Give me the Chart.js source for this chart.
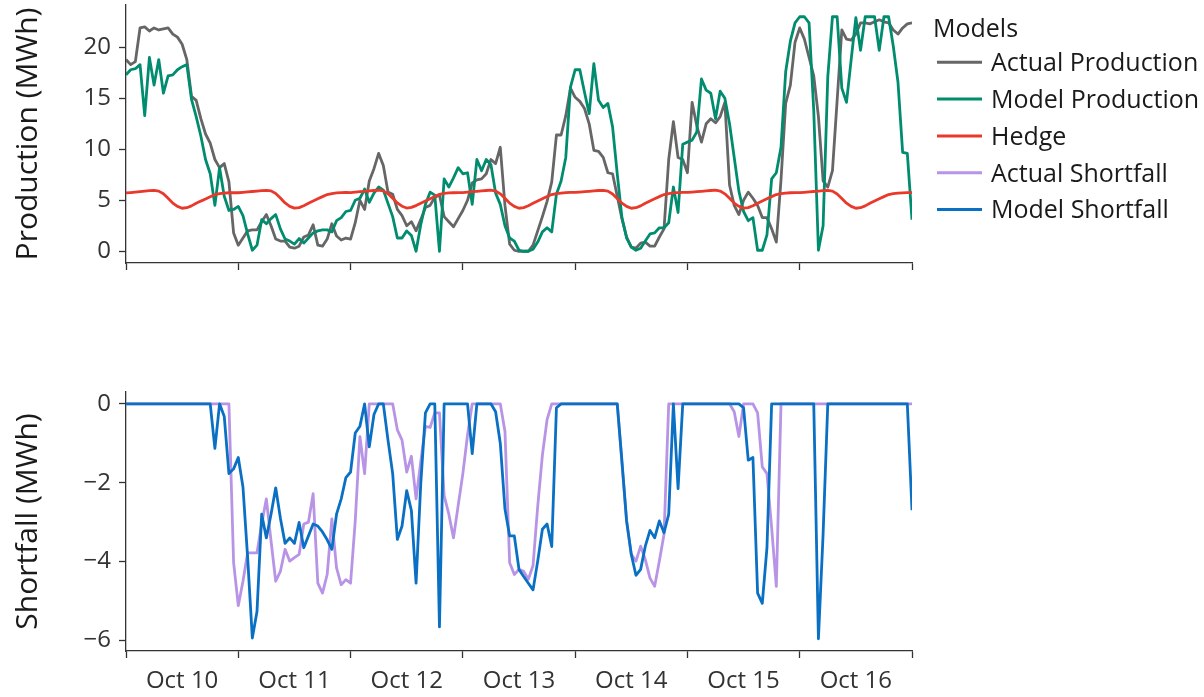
<!DOCTYPE html>
<html>
<head>
<meta charset="utf-8">
<script src="https://cdn.jsdelivr.net/npm/chart.js@4.4.1/dist/chart.umd.min.js"></script>
<style>
  html, body { margin: 0; padding: 0; background: #ffffff; }
  #wrap { position: relative; width: 1204px; height: 697px; overflow: hidden; }
  canvas { position: absolute; left: 0; }
  #prod { top: 0; }
  #short { top: 380px; }
</style>
</head>
<body>
<div id="wrap">
  <canvas id="prod" width="1204" height="300"></canvas>
  <canvas id="short" width="1204" height="317"></canvas>
</div>
<script>
// ---- data: hourly values, Oct 10 00:00 to Oct 17 00:00 ----
const dayLabels = ['Oct 10', 'Oct 11', 'Oct 12', 'Oct 13', 'Oct 14', 'Oct 15', 'Oct 16'];
const hours = Array.from({ length: 169 }, (_, i) => i); // hours since Oct 10 00:00
const productionTicks = [0, 5, 10, 15, 20];
const shortfallTicks = [-6, -4, -2, 0];

const actualProduction = [
  18.8, 18.3, 18.6, 21.9, 22.0, 21.6, 21.9, 21.7, 21.8, 21.9, 21.3, 21.0, 20.3, 18.8, 15.2, 14.8, 13.0, 11.5, 10.6, 9.0, 8.2, 8.6, 6.8, 1.8,
  0.6, 1.3, 2.0, 2.1, 2.1, 2.9, 3.6, 2.5, 1.2, 1.0, 1.0, 0.4, 0.3, 0.5, 1.4, 1.6, 2.6, 0.6, 0.5, 1.2, 2.7, 1.5, 1.1, 1.3,
  1.2, 2.8, 5.0, 4.1, 6.9, 8.1, 9.6, 8.4, 5.8, 5.6, 4.1, 3.5, 2.5, 2.9, 2.0, 3.1, 4.3, 4.5, 5.3, 5.5, 3.4, 2.9, 2.4, 3.2,
  4.0, 5.0, 6.7, 7.0, 7.1, 7.6, 9.0, 8.6, 10.2, 4.5, 0.7, 0.1, 0.0, 0.0, 0.0, 0.6, 2.0, 3.4, 4.9, 6.8, 11.4, 11.4, 13.3, 16.0,
  15.1, 14.7, 14.0, 12.5, 9.9, 9.8, 9.2, 7.7, 7.6, 5.4, 3.2, 1.4, 0.4, 0.3, 0.8, 0.9, 0.5, 0.5, 1.4, 2.2, 9.0, 12.7, 9.2, 9.0,
  7.7, 14.6, 12.3, 10.7, 12.5, 13.0, 12.6, 13.2, 14.6, 6.5, 4.5, 3.6, 5.0, 5.8, 5.2, 4.5, 3.3, 3.3, 2.2, 0.9, 7.0, 14.5, 16.3, 20.5,
  21.9, 20.8, 19.0, 17.2, 13.2, 6.9, 6.3, 7.9, 14.8, 21.7, 20.8, 20.7, 21.3, 22.4, 22.4, 22.3, 22.5, 22.7, 22.5, 22.4, 21.7, 21.3, 21.9, 22.3,
  22.4
];

const modelProduction = [
  17.3, 17.8, 17.9, 18.3, 13.3, 19.0, 16.3, 18.8, 15.5, 17.2, 17.3, 17.8, 18.1, 18.3, 14.9, 13.2, 11.3, 9.0, 7.6, 4.5, 8.2, 5.4, 4.0, 4.1,
  4.4, 3.5, 1.7, 0.1, 0.6, 3.1, 2.7, 3.2, 3.6, 2.2, 1.2, 1.0, 0.7, 1.25, 0.8, 1.3, 1.8, 2.0, 2.1, 2.1, 1.9, 3.0, 3.3, 3.9,
  4.0, 5.0, 5.2, 6.1, 4.8, 5.7, 6.3, 6.0, 4.7, 3.4, 1.3, 1.3, 2.0, 1.55, 0.0, 2.6, 4.6, 5.8, 5.5, 0.0, 7.1, 6.3, 7.2, 8.2,
  7.6, 7.7, 4.6, 9.0, 7.9, 9.0, 8.5, 5.7, 4.6, 2.5, 1.3, 1.0, 0.1, 0.0, 0.0, 0.2, 0.9, 1.9, 2.3, 1.9, 5.6, 6.9, 9.2, 16.1,
  17.8, 17.8, 15.6, 13.5, 18.4, 14.8, 14.1, 14.5, 12.2, 7.6, 3.3, 1.3, 0.4, 0.1, 0.3, 1.0, 1.7, 1.8, 2.3, 2.3, 2.8, 6.3, 3.8, 10.5,
  10.7, 10.9, 11.7, 16.9, 15.8, 15.5, 13.0, 15.7, 15.0, 12.5, 9.2, 5.9, 3.9, 3.0, 3.3, 0.1, 0.1, 1.6, 7.1, 7.7, 10.2, 17.6, 20.6, 22.4,
  23.0, 23.0, 22.4, 13.8, 0.1, 2.5, 17.1, 23.0, 23.0, 16.0, 14.6, 18.8, 22.9, 19.7, 23.0, 23.0, 23.0, 19.7, 23.0, 23.0, 20.1, 16.6, 9.7, 9.6,
  3.1
];

const hedge = [
  5.72, 5.76, 5.80, 5.85, 5.90, 5.95, 5.98, 5.90, 5.64, 5.20, 4.72, 4.40, 4.22, 4.27, 4.45, 4.70, 4.92, 5.12, 5.35, 5.55, 5.65, 5.70, 5.74, 5.76,
  5.74, 5.78, 5.82, 5.86, 5.90, 5.94, 5.98, 5.92, 5.66, 5.22, 4.74, 4.40, 4.23, 4.28, 4.46, 4.70, 4.92, 5.14, 5.36, 5.56, 5.66, 5.72, 5.76, 5.78,
  5.76, 5.80, 5.84, 5.88, 5.92, 5.96, 6.00, 5.92, 5.64, 5.20, 4.74, 4.42, 4.24, 4.30, 4.48, 4.72, 4.94, 5.16, 5.38, 5.58, 5.68, 5.72, 5.74, 5.76,
  5.76, 5.80, 5.84, 5.88, 5.92, 5.96, 5.99, 5.91, 5.63, 5.19, 4.72, 4.40, 4.22, 4.28, 4.46, 4.70, 4.93, 5.15, 5.37, 5.56, 5.66, 5.71, 5.75, 5.78,
  5.77, 5.80, 5.84, 5.88, 5.92, 5.96, 5.98, 5.90, 5.62, 5.18, 4.72, 4.40, 4.22, 4.27, 4.45, 4.70, 4.92, 5.14, 5.36, 5.56, 5.66, 5.72, 5.76, 5.78,
  5.77, 5.80, 5.84, 5.88, 5.92, 5.96, 5.99, 5.91, 5.63, 5.19, 4.72, 4.41, 4.23, 4.28, 4.46, 4.70, 4.92, 5.14, 5.36, 5.56, 5.66, 5.71, 5.74, 5.76,
  5.75, 5.78, 5.82, 5.86, 5.90, 5.95, 5.98, 5.90, 5.62, 5.18, 4.72, 4.40, 4.22, 4.27, 4.45, 4.70, 4.92, 5.14, 5.36, 5.56, 5.66, 5.70, 5.73, 5.75,
  5.76
];

const actualShortfall = [
  0, 0, 0, 0, 0, 0, 0, 0, 0, 0, 0, 0, 0, 0, 0, 0, 0, 0, 0, 0, 0, 0, 0, -4.03,
  -5.12, -4.5, -3.78, -3.78, -3.78, -3.05, -2.41, -3.48, -4.5, -4.25, -3.69, -3.99, -3.9, -3.82, -3.05, -3.0, -2.28, -4.55, -4.8, -4.33, -2.92, -4.16, -4.59, -4.46,
  -4.55, -2.97, -0.83, -1.77, 0, 0, 0, 0, 0, 0, -0.66, -0.92, -1.73, -1.33, -2.41, -1.47, -0.57, -0.6, -0.23, -0.23, -2.33, -2.8, -3.4, -2.58,
  -1.77, -0.79, 0, 0, 0, 0, 0, 0, 0, -0.7, -4.03, -4.33, -4.2, -4.25, -4.45, -4.1, -2.6, -1.3, -0.4, 0, 0, 0, 0, 0,
  0, 0, 0, 0, 0, 0, 0, 0, 0, 0, -1.5, -2.98, -3.82, -3.99, -3.61, -3.95, -4.42, -4.63, -3.99, -3.31, 0, 0, 0, 0,
  0, 0, 0, 0, 0, 0, 0, 0, 0, 0, -0.2, -0.83, 0, 0, 0, -0.23, -1.6, -1.77, -3.14, -4.63, 0, 0, 0, 0,
  0, 0, 0, 0, 0, 0, 0, 0, 0, 0, 0, 0, 0, 0, 0, 0, 0, 0, 0, 0, 0, 0, 0, 0,
  0
];

const modelShortfall = [
  0, 0, 0, 0, 0, 0, 0, 0, 0, 0, 0, 0, 0, 0, 0, 0, 0, 0, 0, -1.13, 0, -0.32, -1.77, -1.65,
  -1.36, -2.11, -3.9, -5.94, -5.27, -2.8, -3.4, -2.8, -2.13, -2.9, -3.54, -3.4, -3.54, -3.01, -3.65, -3.35, -3.05, -3.1, -3.25, -3.45, -3.69, -2.8, -2.41, -1.87,
  -1.73, -0.74, -0.57, 0, -1.09, -0.27, 0, 0, -0.92, -1.77, -3.44, -3.1, -2.2, -2.71, -4.55, -2.03, -0.23, 0, 0, -5.66, 0, 0, 0, 0,
  0, 0, -1.26, 0, 0, 0, 0, -0.2, -1.0, -2.67, -3.35, -3.35, -4.2, -4.38, -4.55, -4.72, -3.99, -3.18, -3.05, -3.62, -0.1, 0, 0, 0,
  0, 0, 0, 0, 0, 0, 0, 0, 0, 0, -1.45, -2.97, -3.82, -4.35, -4.2, -3.61, -3.21, -3.4, -2.97, -3.27, -2.8, 0, -2.15, 0,
  0, 0, 0, 0, 0, 0, 0, 0, 0, 0, 0, 0, -0.1, -1.43, -1.36, -4.8, -5.06, -3.65, 0, 0, 0, 0, 0, 0,
  0, 0, 0, 0, -5.96, -3.3, 0, 0, 0, 0, 0, 0, 0, 0, 0, 0, 0, 0, 0, 0, 0, 0, 0, 0,
  -2.7
];

// ---- styling ----
const FONT = '"Open Sans", "DejaVu Sans", sans-serif';
const TICK_INK = '#333333';
const TITLE_INK = '#1a1a1a';
const AXIS_INK = '#333333';
const colors = {
  'Actual Production': '#666666',
  'Model Production': '#008c6f',
  'Hedge': '#e8392b',
  'Actual Shortfall': '#b894e6',
  'Model Shortfall': '#0a70c4'
};

function line(label, data, order) {
  return {
    label, data, order,
    borderColor: colors[label],
    backgroundColor: colors[label],
    borderWidth: 2.8,
    borderJoinStyle: 'round',
    borderCapStyle: 'butt',
    pointRadius: 0,
    pointHoverRadius: 0,
    tension: 0,
    fill: false
  };
}

function timeAxis(showLabels, height) {
  return {
    type: 'linear',
    min: 0,
    max: 168,
    afterBuildTicks(scale) {
      const t = [];
      for (let v = 0; v <= 168; v += 12) t.push({ value: v });
      scale.ticks = t;
    },
    afterFit(scale) {
      scale.height = height;
      scale.paddingLeft = 0;
      scale.paddingRight = 0;
    },
    border: { display: true, color: AXIS_INK, width: 1.3 },
    grid: {
      display: true,
      drawOnChartArea: false,
      drawTicks: true,
      tickLength: 7,
      tickWidth: 1.3,
      tickColor: (ctx) => (ctx.tick && ctx.tick.value % 24 === 0) ? AXIS_INK : 'rgba(0,0,0,0)'
    },
    ticks: {
      autoSkip: false,
      maxRotation: 0,
      minRotation: 0,
      padding: 9,
      color: TICK_INK,
      font: { family: FONT, size: 24 },
      callback: (v) => (showLabels && v % 24 === 12) ? dayLabels[(v - 12) / 24] : ''
    }
  };
}

function valueAxis(title, tickValues, min, max) {
  return {
    type: 'linear',
    min, max,
    afterBuildTicks(scale) { scale.ticks = tickValues.map((v) => ({ value: v })); },
    afterFit(scale) {
      scale.width = 126;
      scale.paddingTop = 0;
      scale.paddingBottom = 0;
    },
    border: { display: true, color: AXIS_INK, width: 1.3 },
    grid: { display: true, drawOnChartArea: false, drawTicks: true, tickLength: 7, tickWidth: 1.3, tickColor: AXIS_INK },
    ticks: {
      padding: 8,
      color: TICK_INK,
      font: { family: FONT, size: 24 },
      callback: (v) => (v < 0 ? '\u2212' + Math.abs(v) : String(v))
    },
    title: {
      display: true,
      text: title,
      color: TITLE_INK,
      font: { family: FONT, size: 30 },
      padding: { top: 10, bottom: 0 }
    }
  };
}

// legend listing every series of both panels, drawn to the right of the top panel
const legendNames = ['Actual Production', 'Model Production', 'Hedge', 'Actual Shortfall', 'Model Shortfall'];
const modelsLegend = {
  id: 'modelsLegend',
  afterDraw(chart) {
    const ctx = chart.ctx;
    const size = 25;
    ctx.save();
    ctx.font = size + 'px ' + FONT;
    ctx.fillStyle = TITLE_INK;
    ctx.textAlign = 'left';
    ctx.textBaseline = 'alphabetic';
    ctx.fillText('Models', 933, 28 + 0.357 * size);
    legendNames.forEach((name, i) => {
      const y = 62.3 + i * 36.8;
      ctx.strokeStyle = colors[name];
      ctx.lineWidth = 3;
      ctx.lineCap = 'butt';
      ctx.beginPath();
      ctx.moveTo(937, y);
      ctx.lineTo(982, y);
      ctx.stroke();
      ctx.fillStyle = TITLE_INK;
      ctx.fillText(name, 991, y + 0.357 * size);
    });
    ctx.restore();
  }
};

const common = {
  responsive: false,
  animation: false,
  devicePixelRatio: 1,
  events: [],
  plugins: { legend: { display: false }, tooltip: { enabled: false } }
};

new Chart(document.getElementById('prod'), {
  type: 'line',
  data: {
    labels: hours,
    datasets: [
      line('Actual Production', actualProduction, 3),
      line('Model Production', modelProduction, 2),
      line('Hedge', hedge, 1)
    ]
  },
  options: Object.assign({}, common, {
    layout: { padding: { left: 0, top: 5, right: 292, bottom: 0 } },
    scales: {
      x: timeAxis(false, 37),
      y: valueAxis('Production (MWh)', productionTicks, -1.15, 24.15)
    }
  }),
  plugins: [modelsLegend]
});

new Chart(document.getElementById('short'), {
  type: 'line',
  data: {
    labels: hours,
    datasets: [
      line('Actual Shortfall', actualShortfall, 2),
      line('Model Shortfall', modelShortfall, 1)
    ]
  },
  options: Object.assign({}, common, {
    layout: { padding: { left: 0, top: 12, right: 292, bottom: 0 } },
    scales: {
      x: timeAxis(true, 46),
      y: valueAxis('Shortfall (MWh)', shortfallTicks, -6.27, 0.3)
    }
  })
});
</script>
</body>
</html>
